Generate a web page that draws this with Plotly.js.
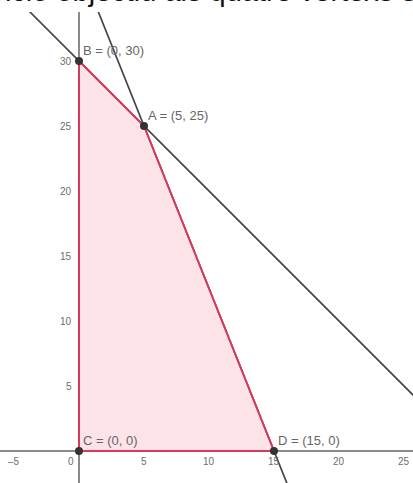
<!DOCTYPE html>
<html>
<head>
<meta charset="utf-8">
<script src="https://cdn.plot.ly/plotly-3.0.1.min.js"></script>
<style>
  html, body { margin: 0; padding: 0; background: #ffffff; }
  #chart { width: 413px; height: 483px; }
</style>
</head>
<body>
<div id="chart"></div>
<script>
// ---- data ----
const headerText = "funció objectiu als quatre vèrtexs s'obté:";
const vertexNames = ['A', 'B', 'C', 'D'];
const vertexX = [5, 0, 0, 15];
const vertexY = [25, 30, 0, 0];
const polygonOrder = ['C', 'B', 'A', 'D'];
// constraint lines a*x + b*y = c
const constraintA = [1, 1, 30];
const constraintB = [5, 2, 75];
const xTickVals = [-5, 5, 10, 15, 20, 25];
const xTickText = ['\u20135', '5', '10', '15', '20', '25'];
const yTickVals = [5, 10, 15, 20, 25, 30];
const yTickText = ['5', '10', '15', '20', '25', '30'];
const originLabel = '0';

// ---- styles ----
const polyEdge = '#d7385e';
const polyFill = 'rgba(250, 200, 210, 0.5)';
const lineColor = '#454545';
const axisColor = '#8a8a8a';
const labelColor = '#666666';
const tickColor = '#6e6e6e';
const font = 'Liberation Sans, Arial, sans-serif';

const xRange = [-79 / 13, 334 / 13];
const yRange = [-32 / 13, 439 / 13];

function lineTrace(coef) {
  const ys = [yRange[0] - 20, yRange[1] + 20];
  const xs = ys.map(y => (coef[2] - coef[1] * y) / coef[0]);
  return {
    x: xs, y: ys, type: 'scatter', mode: 'lines',
    line: { color: lineColor, width: 1.7 },
    hoverinfo: 'skip', showlegend: false
  };
}

const idx = n => vertexNames.indexOf(n);
const polyX = polygonOrder.map(n => vertexX[idx(n)]);
const polyY = polygonOrder.map(n => vertexY[idx(n)]);
polyX.push(polyX[0]);
polyY.push(polyY[0]);

const traces = [
  lineTrace(constraintA),
  lineTrace(constraintB),
  {
    x: polyX, y: polyY, type: 'scatter', mode: 'lines',
    fill: 'toself', fillcolor: polyFill,
    line: { color: polyEdge, width: 2 },
    hoverinfo: 'skip', showlegend: false
  },
  {
    x: vertexX, y: vertexY, type: 'scatter', mode: 'markers',
    marker: { color: '#333333', size: 8 },
    hoverinfo: 'skip', showlegend: false, cliponaxis: false
  }
];

const annotations = [];
// header text (cut off at top, as in the reference)
annotations.push({
  xref: 'paper', yref: 'paper', x: -31 / 413, y: 1, xanchor: 'left', yanchor: 'bottom',
  yshift: 3, text: headerText, showarrow: false,
  font: { family: font, size: 29, color: '#111111' }
});
// x tick labels
xTickVals.forEach((v, i) => annotations.push({
  x: v, y: 0, xref: 'x', yref: 'y', text: xTickText[i], showarrow: false,
  xanchor: 'center', yanchor: 'middle', yshift: -10,
  font: { family: font, size: 10, color: tickColor }
}));
// origin label
annotations.push({
  x: 0, y: 0, xref: 'x', yref: 'y', text: originLabel, showarrow: false,
  xanchor: 'center', yanchor: 'middle', xshift: -8, yshift: -10,
  font: { family: font, size: 10, color: tickColor }
});
// y tick labels
yTickVals.forEach((v, i) => annotations.push({
  x: 0, y: v, xref: 'x', yref: 'y', text: yTickText[i], showarrow: false,
  xanchor: 'right', yanchor: 'middle', xshift: -5,
  font: { family: font, size: 10, color: tickColor }
}));
// vertex labels
vertexNames.forEach((n, i) => annotations.push({
  x: vertexX[i], y: vertexY[i], xref: 'x', yref: 'y',
  text: n + ' = (' + vertexX[i] + ', ' + vertexY[i] + ')', showarrow: false,
  xanchor: 'left', yanchor: 'middle', xshift: 2, yshift: 11,
  font: { family: font, size: 13, color: labelColor }
}));

const layout = {
  width: 413, height: 483,
  margin: { l: 0, r: 0, t: 12, b: 0, pad: 0 },
  paper_bgcolor: '#ffffff', plot_bgcolor: '#ffffff',
  showlegend: false,
  xaxis: {
    range: xRange, showgrid: false, showticklabels: false, ticks: '',
    zeroline: true, zerolinecolor: axisColor, zerolinewidth: 1.5,
    showline: false, fixedrange: true
  },
  yaxis: {
    range: yRange, showgrid: false, showticklabels: false, ticks: '',
    zeroline: true, zerolinecolor: axisColor, zerolinewidth: 1.5,
    showline: false, fixedrange: true
  },
  annotations: annotations
};

Plotly.newPlot('chart', traces, layout, { staticPlot: true, displayModeBar: false });
</script>
</body>
</html>
